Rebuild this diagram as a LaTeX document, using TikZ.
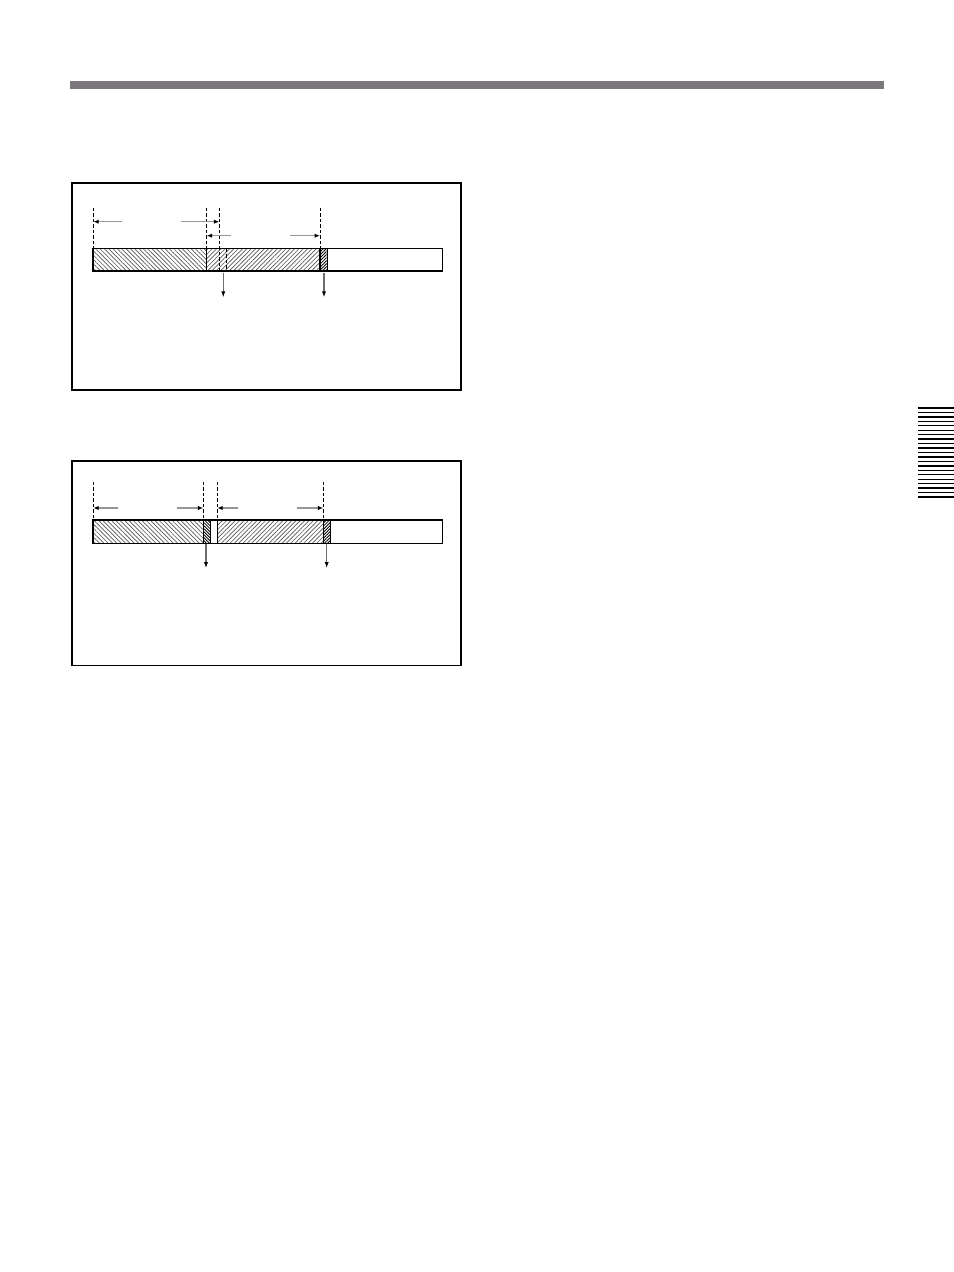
\documentclass[tikz,border=0pt]{standalone}
\usepackage{tikz}
\usetikzlibrary{patterns.meta}
\usetikzlibrary{arrows.meta}

\tikzset{
  guide/.style={dash pattern=on 2.5pt off 1.6pt, line width=0.7pt},
  dimarrow/.style={color={rgb, 255:red, 150; green, 150; blue, 150}, line width=1.1pt,
    -{Latex[color=black,length=4pt,width=3.2pt]}},
  droparrow/.style={color={rgb, 255:red, 110; green, 110; blue, 110}, line width=0.8pt,
    -{Latex[color=black,length=4.5pt,width=3.2pt]}},
  backhatch/.style={pattern={Lines[angle=135,distance=2.3pt,line width=0.5pt]},
    pattern color={rgb, 255:red, 85; green, 85; blue, 85}},
  forehatch/.style={pattern={Lines[angle=45,distance=2.3pt,line width=0.5pt]},
    pattern color={rgb, 255:red, 85; green, 85; blue, 85}},
  backdense/.style={pattern={Lines[angle=135,distance=1.6pt,line width=0.65pt]}, pattern color=black},
  foredense/.style={pattern={Lines[angle=45,distance=1.6pt,line width=0.65pt]}, pattern color=black},
}

\begin{document}
\begin{tikzpicture}[x=0.75pt,y=0.75pt,yscale=-1,xscale=1]
	\useasboundingbox (0,0) rectangle (954,1272);
	
	%Header bar
	\fill [color={rgb, 255:red, 122; green, 120; blue, 122 }] (70,81) rectangle (884,89);
	
	%Side tab
	\foreach \i in {0,...,20}
	  \draw [line width=1pt] (918,408+\i*4.45) -- (954,408+\i*4.45);
	
	%Frame 1
	\draw [line width=0.8pt] (72,183) rectangle (461,390);
	\fill [backhatch] (92.7,248.3) rectangle (206.7,271);
	\fill [forehatch] (206.7,248.3) rectangle (320,271);
	\fill [foredense] (320,248.3) rectangle (327.3,271);
	\draw [line width=0.9pt] (92.7,248.3) rectangle (442.3,271);
	\draw [line width=1.6pt] (93.3,248.3) -- (93.3,271);
	\draw [line width=0.9pt] (206.7,248.3) -- (206.7,271);
	\draw [line width=0.9pt] (320,248.3) -- (320,271);
	\draw [line width=0.9pt] (327.3,248.3) -- (327.3,271);
	
	%Guides 1
	\coordinate (ga) at (93.3,208);
	\coordinate (gb) at (206.7,208);
	\coordinate (gc) at (219.3,208);
	\coordinate (gd) at (320,208);
	\draw [guide] (ga) -- (93.3,248);
	\draw [guide] (gb) -- (206.7,248);
	\draw [guide] (gc) -- (219.3,271);
	\draw [guide] (gd) -- (320,248);
	\draw [guide] (226.7,249) -- (226.7,271);
	
	%Arrows 1
	\draw [dimarrow] (121.7,221.7) -- (ga |- 0,221.7);
	\draw [dimarrow] (181,221.7) -- (gc |- 0,221.7);
	\draw [dimarrow] (231,235.7) -- (gb |- 0,235.7);
	\draw [dimarrow] (290,235.7) -- (gd |- 0,235.7);
	\draw [droparrow] (223.3,272.7) -- (223.3,297.3);
	\draw [droparrow] (324,272.7) -- (324,297.3);
	
	%Frame 2
	\draw [line width=0.8pt] (72,461) rectangle (461,665.5);
	\fill [backhatch] (92.7,519.7) rectangle (203.3,543.3);
	\fill [backdense] (203.3,519.7) rectangle (210.7,543.3);
	\fill [forehatch] (217.3,519.7) rectangle (323.3,543.3);
	\fill [foredense] (323.3,519.7) rectangle (330.7,543.3);
	\draw [line width=0.9pt] (92.7,519.7) rectangle (442.3,543.3);
	\draw [line width=1.8pt] (92.7,519.7) -- (442.3,519.7);
	\draw [line width=1.6pt] (93.3,519.7) -- (93.3,543.3);
	\foreach \xx in {203.3,210.7,217.3,323.3,330.7}
	  \draw [line width=0.9pt] (\xx,519.7) -- (\xx,543.3);
	
	%Guides 2
	\coordinate (ha) at (93.3,482);
	\coordinate (hb) at (203.3,482);
	\coordinate (hc) at (217.3,482);
	\coordinate (hd) at (323.3,482);
	\foreach \g in {ha,hb,hc,hd}
	  \draw [guide] (\g) -- (\g |- 0,519);
	
	%Arrows 2
	\draw [dimarrow] (117.7,508) -- (ha |- 0,508);
	\draw [dimarrow] (176.7,508) -- (hb |- 0,508);
	\draw [dimarrow] (237.7,508) -- (hc |- 0,508);
	\draw [dimarrow] (296.7,508) -- (hd |- 0,508);
	\draw [droparrow] (206,544) -- (206,568);
	\draw [droparrow] (326.7,544) -- (326.7,568);
	
\end{tikzpicture}
\end{document}
